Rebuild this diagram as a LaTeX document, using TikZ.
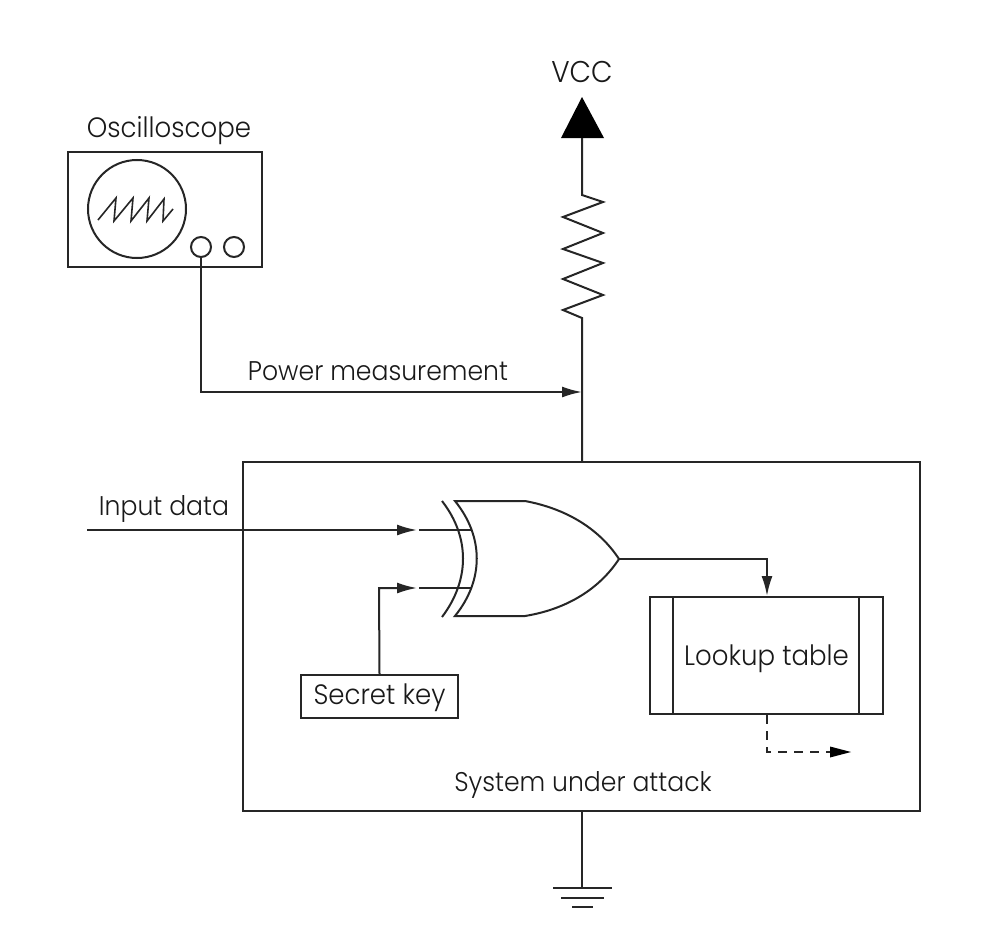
\documentclass[tikz,border=0pt]{standalone}
\usepackage{fontspec}
\setmainfont{Poppins Light}[BoldFont=Poppins,FakeStretch=0.93]
\usetikzlibrary{arrows.meta,calc}
\tikzset{
  x=1pt,y=-1pt,
  wire/.style={line width=2pt,draw=black!85},
  arrowed/.style={wire,-{Latex[length=20pt,width=11pt]}},
  dashwire/.style={wire,dash pattern=on 9pt off 7pt},
  box/.style={draw=black!85,line width=2pt,fill=white,inner sep=0pt},
  label/.style={font=\fontsize{27}{30}\selectfont,text=black!90,inner sep=0pt},
  biglabel/.style={font=\fontsize{28}{30}\selectfont,text=black!90,inner sep=0pt},
}
\begin{document}
\begin{tikzpicture}
\useasboundingbox (0,0) rectangle (1004,942);
% boxes
\node[box,minimum width=677pt,minimum height=349pt] (sys) at (581.5,636.5) {};
\node[box,minimum width=194pt,minimum height=115pt] (scope) at (165,209.5) {};
\node[box,minimum width=233pt,minimum height=117pt] (lut) at (766.5,655.5) {};
\node[box,minimum width=157pt,minimum height=43pt] (key) at (379.5,696.5) {};
\draw[wire] (673,597) -- (673,714) (859,597) -- (859,714);
% labels
\node[label,font=\fontsize{30}{32}\selectfont] (lvcc) at (582,72) {VCC};
\node[biglabel] (lscope) at (169,131) {Oscilloscope};
\node[label] (lpow) at (378,371) {Power measurement};
\node[label] (lin) at (164,509) {Input data};
\node[biglabel] (lkey) at (379.5,698) {Secret key};
\node[biglabel] (llut) at (766.5,659) {Lookup table};
\node[label] (lsys) at (583,785) {System under attack};
% oscilloscope
\node[draw=black!85,line width=2pt,circle,minimum size=98pt,inner sep=0pt] (screen) at (137,209) {};
\node[draw=black!85,line width=2pt,circle,minimum size=20pt,inner sep=0pt] (p1) at (201,247) {};
\node[draw=black!85,line width=2pt,circle,minimum size=20pt,inner sep=0pt] (p2) at (234,247) {};
\draw[wire,line width=1.6pt] (98,220) -- (116,198) -- (114,221) -- (133,198) -- (131,221) -- (149,198) -- (147,221) -- (164,199) -- (163,221) -- (173,209);
% VCC and resistor
\fill[black] (582,97) -- (604,138) -- (561,138) -- cycle;
\coordinate (r1) at (582,195);
\coordinate (r2) at (582,318);
\coordinate (vcc) at (582,138);
\coordinate (pt) at (582,392);
\draw[wire] (vcc) -- (r1) -- (603,202) -- (563,217) -- (603,233) -- (563,249) -- (603,263) -- (563,279) -- (603,295) -- (563,310) -- (r2) -- (sys.north -| r2);
% power measurement
\draw[arrowed] (p1.south) -- (201,392) -- (pt);
% ground
\coordinate (gnd) at (582,888);
\draw[wire] (sys.south -| gnd) -- (gnd);
\draw[wire] (553,888) -- (612,888);
\draw[wire,line width=2.4pt] (561,898) -- (604,898);
\draw[wire,line width=2.4pt] (572,907) -- (593,907);
% gate
\draw[wire,line join=miter] (455,501) -- (525,501) .. controls (568,509) and (600,530) .. (619,559) .. controls (600,588) and (568,609) .. (525,616) -- (455,616) .. controls (484,580) and (484,537) .. (455,501) -- cycle;
\draw[wire] (442,501) .. controls (470,537) and (470,580) .. (442,617);
\coordinate (g1) at (472,530);
\coordinate (g2) at (472,588);
\coordinate (out) at (619,559);
\coordinate (a1) at (417,530);
\coordinate (a2) at (417,588);
\coordinate (in) at (87,530);
\draw[arrowed] (in) -- (a1);
\draw[wire] (419,530) -- (g1);
\draw[arrowed] (key.north) -- (379,588) -- (a2);
\draw[wire] (419,588) -- (g2);
% output
\draw[arrowed] (out) -- (767,559) -- (lut.north -| 767,0);
\draw[dashwire] (lut.south -| 767,0) -- (767,752) -- (830,752);
\fill[black] (851,752) -- (830,746.5) -- (830,757.5) -- cycle;
\end{tikzpicture}
\end{document}
